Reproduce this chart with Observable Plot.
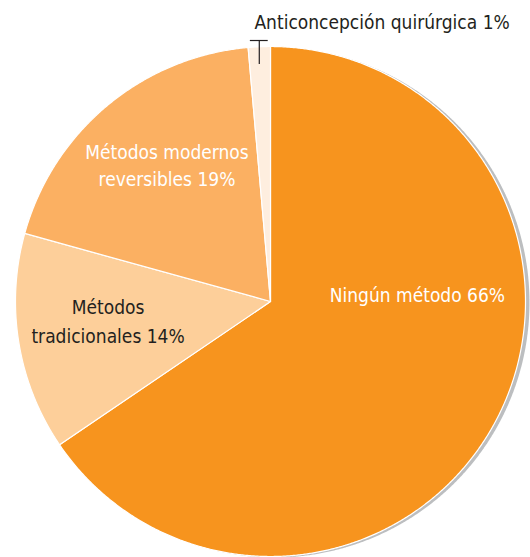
<!DOCTYPE html>
<html>
<head>
<meta charset="utf-8">
<script src="https://cdn.jsdelivr.net/npm/d3@7"></script>
<script src="https://cdn.jsdelivr.net/npm/@observablehq/plot@0.6"></script>
<style>
  html, body { margin: 0; padding: 0; background: #fff; }
  #chart { width: 530px; height: 557px; }
  #chart svg text { font-stretch: condensed; }
</style>
</head>
<body>
<div id="chart"></div>
<script>
// ---- Data ----
const categories = ["Ningún método", "Métodos tradicionales", "Métodos modernos reversibles", "Anticoncepción quirúrgica"];
const values = [65.5, 13.8, 19.3, 1.4];          // slice sizes
const percentLabels = ["66%", "14%", "19%", "1%"]; // printed labels
const labelTexts = ["Ningún método 66%", "Métodos\ntradicionales 14%", "Métodos modernos\nreversibles 19%", "Anticoncepción quirúrgica 1%"];
const colors = ["#F7941E", "#FDCF9A", "#FBB062", "#FEEEDF"];

// ---- Build pie geometry with d3.pie ----
const rows = categories.map((name, i) => ({name, value: values[i], label: labelTexts[i]}));
const arcs = d3.pie().sort(null).value(d => d.value).startAngle(0).endAngle(2 * Math.PI)(rows);

const slicePts = [];
for (const a of arcs) {
  slicePts.push({name: a.data.name, x: 0, y: 0});
  const n = Math.max(4, Math.ceil((a.endAngle - a.startAngle) / 0.005));
  for (let k = 0; k <= n; k++) {
    const t = a.startAngle + (a.endAngle - a.startAngle) * k / n;
    slicePts.push({name: a.data.name, x: Math.sin(t), y: Math.cos(t)});
  }
}
const circlePts = d3.range(0, 2 * Math.PI, 0.005).map(t => ({x: Math.sin(t), y: Math.cos(t)}));

// ---- label layout (data units of the unit circle) ----
const layout = {
  "Ningún método": {x: 0.576, y: 0.035, fill: "#fff"},
  "Métodos tradicionales": {x: -0.637, y: -0.069, fill: "#231F20"},
  "Métodos modernos reversibles": {x: -0.406, y: 0.541, fill: "#fff"},
  "Anticoncepción quirúrgica": {x: -0.063, y: 1.094, fill: "#231F20"}
};
const labelRows = rows.map(r => ({...r, ...layout[r.name]}));
const inner = labelRows.filter(r => r.name !== "Anticoncepción quirúrgica");
const outer = labelRows.filter(r => r.name === "Anticoncepción quirúrgica");

// leader for the small slice
const small = arcs[arcs.length - 1];
const mid = (small.startAngle + small.endAngle) / 2;
const leaderX = Math.sin(mid);
const leader = [{x: leaderX, y1: 0.929, y2: 1.0235}];
const leaderTop = [{y: 1.0235, x1: leaderX - 0.035, x2: leaderX + 0.035}];

const font = "'DejaVu Sans Condensed', 'DejaVu Sans', sans-serif";
const fs = 19;

const chart = Plot.plot({
  width: 530,
  height: 557,
  marginLeft: 15,
  marginRight: 5,
  marginTop: 46,
  marginBottom: 1,
  x: {domain: [-1, 1], axis: null},
  y: {domain: [-1, 1], axis: null},
  color: {domain: categories, range: colors},
  style: {background: "#fff", fontFamily: font},
  marks: [
    Plot.line(circlePts, {x: "x", y: "y", curve: "linear-closed", fill: "#BCBEC0", stroke: "none", dx: 4, dy: 1}),
    Plot.line(slicePts, {x: "x", y: "y", z: "name", fill: "name", stroke: "#fff", strokeWidth: 1.2, strokeLinejoin: "round", curve: "linear-closed"}),
    Plot.ruleX(leader, {x: "x", y1: "y1", y2: "y2", stroke: "#231F20", strokeWidth: 1.2}),
    Plot.ruleY(leaderTop, {y: "y", x1: "x1", x2: "x2", stroke: "#231F20", strokeWidth: 1.2}),
    Plot.text(inner.filter(d => d.fill === "#fff"), {x: "x", y: "y", text: "label", fill: "#fff", fontSize: fs, fontFamily: font, lineHeight: 1.47, textAnchor: "middle"}),
    Plot.text(inner.filter(d => d.fill !== "#fff"), {x: "x", y: "y", text: "label", fill: "#231F20", fontSize: fs, fontFamily: font, lineHeight: 1.52, textAnchor: "middle"}),
    Plot.text(outer, {x: "x", y: "y", text: "label", fill: "#231F20", fontSize: fs, fontFamily: font, textAnchor: "start"})
  ]
});
document.getElementById("chart").appendChild(chart);
</script>
</body>
</html>
